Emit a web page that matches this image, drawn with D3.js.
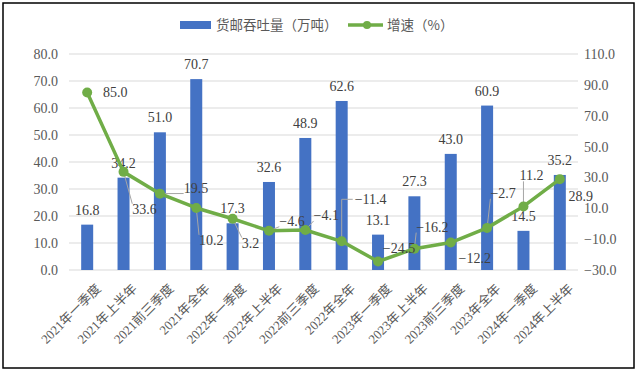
<!DOCTYPE html>
<html>
<head>
<meta charset="utf-8">
<script src="https://cdn.jsdelivr.net/npm/d3@7"></script>
<style>
    body { margin: 0; background: #fff; }
    svg { display: block; }
</style>
</head>
<body>
<div id="chart"></div>
<script>
// categories + values
const categories = ['2021年一季度', '2021年上半年', '2021前三季度', '2021年全年',
    '2022年一季度', '2022年上半年', '2022前三季度', '2022年全年',
    '2023年一季度', '2023年上半年', '2023前三季度', '2023年全年',
    '2024年一季度', '2024年上半年'];
const volume = [16.8, 34.2, 51.0, 70.7, 17.3, 32.6, 48.9, 62.6, 13.1, 27.3, 43.0, 60.9, 14.5, 35.2];
const growth = [85.0, 33.6, 19.5, 10.2, 3.2, -4.6, -4.1, -11.4, -24.5, -16.2, -12.2, -2.7, 11.2, 28.9];
const leftTicks = [0, 10, 20, 30, 40, 50, 60, 70, 80];
const rightTicks = [-30, -10, 10, 30, 50, 70, 90, 110];
const seriesNames = ['货邮吞吐量（万吨）', '增速（%）'];

// where each growth label sits relative to its point, and its leader style (0 none, 1 straight, 2 elbow)
const labelOffset = [[28, 0], [21, 37], [36, -6], [15, 32], [18, 24], [23, -10], [21, -15],
    [29, -42], [21, -13], [18, -22], [24, 16], [16, -35], [8, -31], [21, 17]];
const leader = [0, 1, 1, 1, 1, 1, 1, 2, 0, 1, 0, 1, 1, 0];

const W = 637, H = 372;
const barColor = '#4472C4', lineColor = '#70AD47';
const numFont = '"Liberation Serif", "Times New Roman", serif';
const cjkFont = '"Liberation Serif", "Noto Sans CJK SC", serif';

const svg = d3.select('#chart').append('svg')
    .attr('width', W)
    .attr('height', H);

// outer frame
svg.append('rect')
    .attr('x', 3).attr('y', 3)
    .attr('width', W - 6).attr('height', H - 7)
    .attr('fill', 'none')
    .attr('stroke', '#000')
    .attr('stroke-width', 1.5);

const plot = {left: 69, right: 578, top: 54, bottom: 270};

const x = d3.scaleBand()
    .domain(categories)
    .range([plot.left, plot.right]);

const yL = d3.scaleLinear().domain([0, 80]).range([plot.bottom, plot.top]);
const yR = d3.scaleLinear().domain([-30, 110]).range([plot.bottom, plot.top]);

// gridlines
svg.append('g')
    .selectAll('line')
    .data(leftTicks)
    .enter().append('line')
    .attr('x1', plot.left).attr('x2', plot.right)
    .attr('y1', d => yL(d)).attr('y2', d => yL(d))
    .attr('stroke', '#D9D9D9')
    .attr('stroke-width', 1);

// axes (labels only)
const fmt = d3.format('.1f');
const leftAxis = svg.append('g')
    .attr('transform', `translate(${plot.left - 4}, 0)`)
    .call(d3.axisLeft(yL).tickValues(leftTicks).tickFormat(fmt).tickSize(0).tickPadding(7));
const rightAxis = svg.append('g')
    .attr('transform', `translate(${plot.right + 4}, 0)`)
    .call(d3.axisRight(yR).tickValues(rightTicks).tickFormat(fmt).tickSize(0).tickPadding(2));
[leftAxis, rightAxis].forEach(a => {
    a.select('.domain').remove();
    a.selectAll('text')
        .attr('fill', '#595959')
        .style('font-family', numFont)
        .style('font-size', '14px');
});

// x labels
svg.append('g')
    .selectAll('text')
    .data(categories)
    .enter().append('text')
    .attr('transform', d => `translate(${x(d) + x.bandwidth() / 2 + 8}, ${plot.bottom + 13}) rotate(-45)`)
    .attr('text-anchor', 'end')
    .attr('dy', '0.7em')
    .attr('fill', '#595959')
    .style('font-family', cjkFont)
    .style('font-size', '13px')
    .text(d => d);

// bars
const barW = 12;
svg.append('g')
    .selectAll('rect')
    .data(volume)
    .enter().append('rect')
    .attr('x', (d, i) => x(categories[i]) + x.bandwidth() / 2 - barW / 2)
    .attr('y', d => yL(d))
    .attr('width', barW)
    .attr('height', d => plot.bottom - yL(d))
    .attr('fill', barColor);

svg.append('g')
    .selectAll('text')
    .data(volume)
    .enter().append('text')
    .attr('x', (d, i) => x(categories[i]) + x.bandwidth() / 2)
    .attr('y', d => yL(d) - 10)
    .attr('text-anchor', 'middle')
    .attr('fill', '#404040')
    .style('font-family', numFont)
    .style('font-size', '14px')
    .text(d => fmt(d));

// growth line
const pts = growth.map((d, i) => [x(categories[i]) + x.bandwidth() / 2, yR(d)]);

// leader lines + growth labels
const leaders = svg.append('g');
const glabels = svg.append('g');

pts.forEach((p, i) => {
    const lx = p[0] + labelOffset[i][0], ly = p[1] + labelOffset[i][1];
    const t = glabels.append('text')
        .attr('x', lx).attr('y', ly)
        .attr('dy', '0.35em')
        .attr('text-anchor', 'middle')
        .attr('fill', '#404040')
        .style('font-family', numFont)
        .style('font-size', '14px')
        .text(fmt(growth[i]));
    if (!leader[i]) return;
    const bb = t.node().getBBox();
    if (leader[i] === 2) {
        leaders.append('polyline')
            .attr('points', `${p[0]},${p[1]} ${p[0]},${ly} ${bb.x - 2},${ly}`)
            .attr('fill', 'none')
            .attr('stroke', '#A6A6A6').attr('stroke-width', 1);
        return;
    }
    // nearest point of the label box to the data point
    const ex = Math.max(bb.x, Math.min(p[0], bb.x + bb.width));
    const ey = Math.max(bb.y + 2, Math.min(p[1], bb.y + bb.height - 2));
    leaders.append('line')
        .attr('x1', p[0]).attr('y1', p[1])
        .attr('x2', ex).attr('y2', ey)
        .attr('stroke', '#A6A6A6').attr('stroke-width', 1);
});

svg.append('path')
    .datum(pts)
    .attr('d', d3.line())
    .attr('fill', 'none')
    .attr('stroke', lineColor)
    .attr('stroke-width', 3.5)
    .attr('stroke-linejoin', 'round');

svg.append('g')
    .selectAll('circle')
    .data(pts)
    .enter().append('circle')
    .attr('cx', d => d[0]).attr('cy', d => d[1])
    .attr('r', 5)
    .attr('fill', lineColor);

// keep labels above the line
glabels.raise();

// legend
const legend = svg.append('g').attr('transform', 'translate(180, 25)');
legend.append('rect')
    .attr('x', 0).attr('y', -4)
    .attr('width', 31).attr('height', 8)
    .attr('fill', barColor);
legend.append('text')
    .attr('x', 36).attr('y', 0).attr('dy', '0.35em')
    .attr('fill', '#595959')
    .style('font-family', '"Noto Sans CJK SC", sans-serif')
    .style('font-size', '13.5px')
    .text(seriesNames[0]);
legend.append('line')
    .attr('x1', 168).attr('x2', 203)
    .attr('y1', 0).attr('y2', 0)
    .attr('stroke', lineColor).attr('stroke-width', 3.5);
legend.append('circle')
    .attr('cx', 187).attr('cy', 0).attr('r', 4)
    .attr('fill', lineColor);
legend.append('text')
    .attr('x', 207).attr('y', 0).attr('dy', '0.35em')
    .attr('fill', '#595959')
    .style('font-family', '"Noto Sans CJK SC", sans-serif')
    .style('font-size', '13.5px')
    .text(seriesNames[1]);
</script>
</body>
</html>
